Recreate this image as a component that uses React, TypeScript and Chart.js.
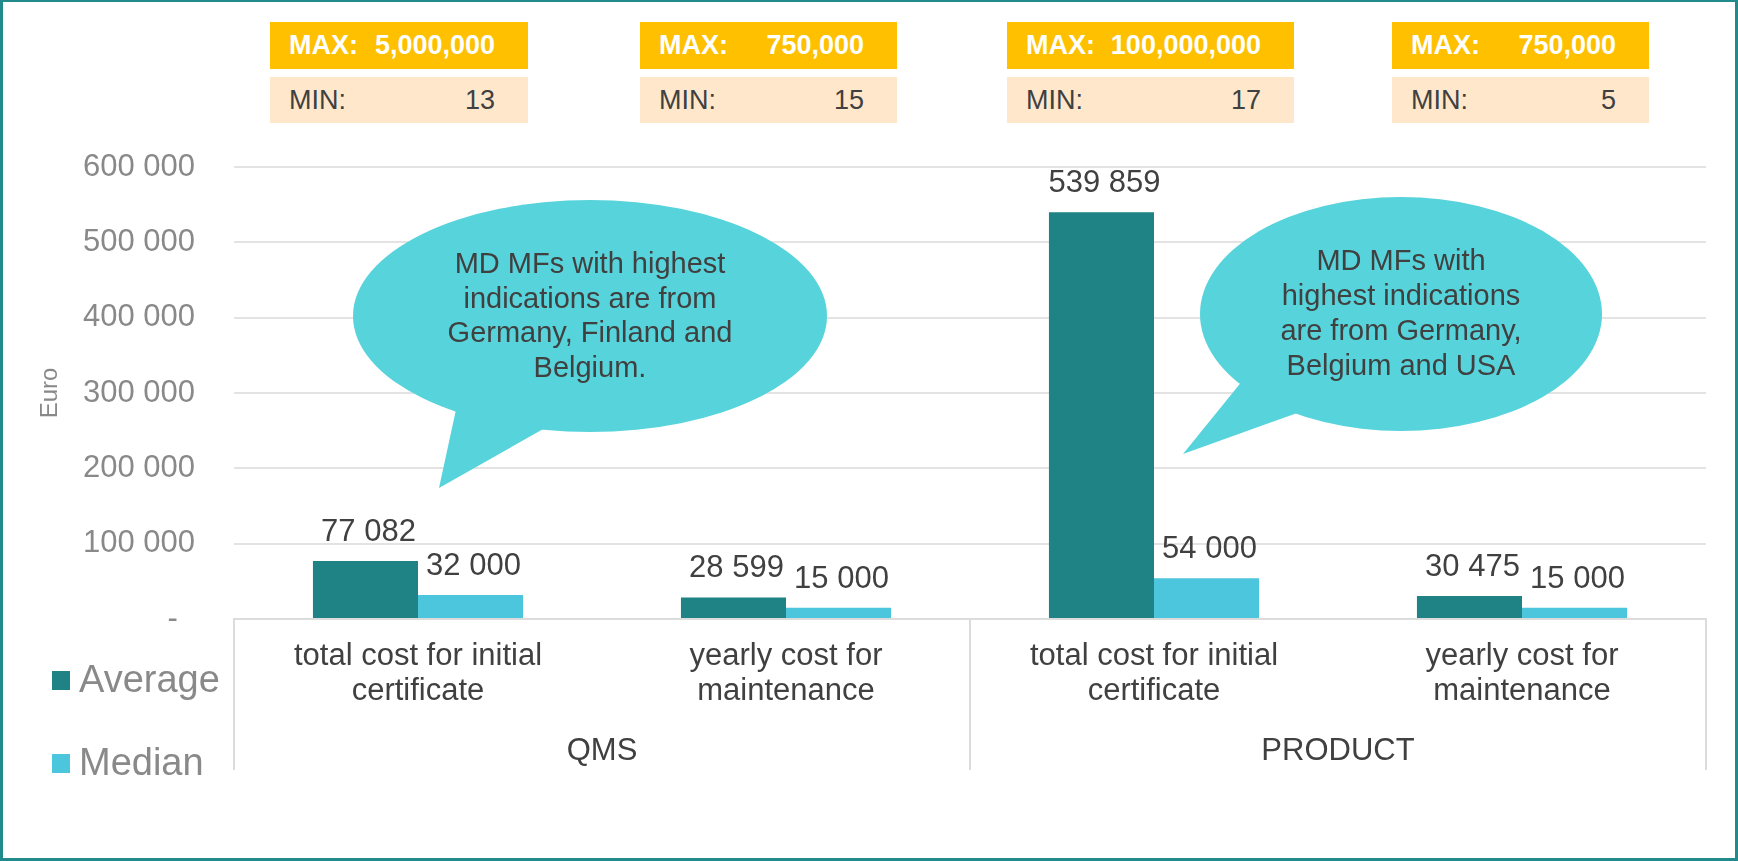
import React, { useEffect, useRef } from 'react';
import { Chart, registerables } from 'chart.js';

Chart.register(...registerables);

const FONT = '"Liberation Sans", Arial, Helvetica, sans-serif';

// ---------- data ----------
const categoryLabels: string[][] = [
  ['total cost for initial', 'certificate'],
  ['yearly cost for', 'maintenance'],
  ['total cost for initial', 'certificate'],
  ['yearly cost for', 'maintenance'],
];
const groupLabels: string[] = ['QMS', 'PRODUCT'];
const seriesNames: string[] = ['Average', 'Median'];
const averageValues: number[] = [77082, 28599, 539859, 30475];
const medianValues: number[] = [32000, 15000, 54000, 15000];
const yMin = 0;
const yMax = 600000;
const yStep = 100000;
const maxLabels: string[] = ['5,000,000', '750,000', '100,000,000', '750,000'];
const minLabels: string[] = ['13', '15', '17', '5'];
const bubbleQmsText: string[] = ['MD MFs with highest', 'indications are from', 'Germany, Finland and', 'Belgium.'];
const bubbleProductText: string[] = ['MD MFs with', 'highest indications', 'are from Germany,', 'Belgium and USA'];

// ---------- styles ----------
const AVG_COLOR = '#1F8285';
const MED_COLOR = '#4BC6DD';
const TEXT_DARK = '#404040';
const TEXT_GREY = '#898989';
const GRID = '#e3e3e3';
const BUBBLE = '#57D3DB';
const BORDER = '#218A8C';

const W = 1738;
const H = 861;

const fmt = (v: number) => {
  const s = Math.round(v).toString();
  return s.replace(/\B(?=(\d{3})+(?!\d))/g, ' ');
};

const valueLabelPlugin = {
  id: 'valueLabels',
  afterDatasetsDraw(chart: any) {
    const ctx = chart.ctx;
    ctx.save();
    ctx.font = `31px ${FONT}`;
    ctx.fillStyle = TEXT_DARK;
    ctx.textAlign = 'center';
    ctx.textBaseline = 'alphabetic';
    chart.data.datasets.forEach((ds: any, di: number) => {
      const meta = chart.getDatasetMeta(di);
      meta.data.forEach((el: any, i: number) => {
        ctx.fillText(fmt(ds.data[i]), el.x + 3, el.y - 20);
      });
    });
    ctx.restore();
  },
};

const separatorPlugin = {
  id: 'groupSeparators',
  afterDraw(chart: any) {
    const x = chart.scales.x;
    const x2 = chart.scales.x2;
    const n = chart.data.labels.length;
    const half = n / 2;
    const mid = (x.getPixelForValue(half - 1) + x.getPixelForValue(half)) / 2;
    const ctx = chart.ctx;
    ctx.save();
    ctx.strokeStyle = '#dcdcdc';
    ctx.lineWidth = 2;
    const y0 = chart.chartArea.bottom;
    const y1 = x2.top + 36;
    [x.left, mid, x.right].forEach((px: number) => {
      ctx.beginPath();
      ctx.moveTo(px, y0);
      ctx.lineTo(px, y1);
      ctx.stroke();
    });
    ctx.restore();
  },
};

const legendPlugin = {
  id: 'sideLegend',
  afterDraw(chart: any) {
    const ctx = chart.ctx;
    const base = chart.chartArea.bottom;
    const offsets = [52, 135];
    ctx.save();
    chart.data.datasets.forEach((ds: any, i: number) => {
      const top = base + offsets[i];
      ctx.fillStyle = ds.backgroundColor;
      ctx.fillRect(52, top, 18, 19);
      ctx.fillStyle = TEXT_GREY;
      ctx.font = `38px ${FONT}`;
      ctx.textAlign = 'left';
      ctx.textBaseline = 'alphabetic';
      ctx.fillText(ds.label, 79, top + 21);
    });
    ctx.restore();
  },
};

function ChartCanvas() {
  const ref = useRef<HTMLCanvasElement | null>(null);
  useEffect(() => {
    if (!ref.current) return;
    Chart.defaults.font.family = FONT;
    const chart = new Chart(ref.current, {
      type: 'bar',
      data: {
        labels: categoryLabels,
        datasets: [
          {
            label: seriesNames[0],
            data: averageValues,
            backgroundColor: AVG_COLOR,
            categoryPercentage: 0.571,
            barPercentage: 1,
            xAxisID: 'x',
          },
          {
            label: seriesNames[1],
            data: medianValues,
            backgroundColor: MED_COLOR,
            categoryPercentage: 0.571,
            barPercentage: 1,
            xAxisID: 'x',
          },
        ],
      },
      options: {
        animation: false,
        responsive: false,
        devicePixelRatio: 1,
        layout: { padding: { top: 167, right: 32, bottom: 0, left: 0 } },
        plugins: {
          legend: { display: false },
          tooltip: { enabled: false },
          title: { display: false },
        },
        scales: {
          y: {
            min: yMin,
            max: yMax,
            ticks: {
              stepSize: yStep,
              padding: 39,
              color: TEXT_GREY,
              font: { size: 31, family: FONT },
              callback: (v: any) => (Number(v) === 0 ? '-  ' : fmt(Number(v))),
            },
            grid: { color: GRID, lineWidth: 2, drawTicks: false },
            border: { display: false },
            title: {
              display: true,
              text: 'Euro',
              color: TEXT_GREY,
              font: { size: 24, family: FONT, lineHeight: 1.2 },
              padding: { top: 36, bottom: 0 },
            },
            afterFit: (s: any) => {
              s.width = 234;
            },
          },
          x: {
            type: 'category',
            position: 'bottom',
            weight: 0,
            grid: { display: false, drawTicks: false },
            border: { display: true, color: '#dcdcdc', width: 2 },
            ticks: {
              color: TEXT_DARK,
              font: { size: 31, family: FONT, lineHeight: 1.13 },
              padding: 20,
              maxRotation: 0,
              minRotation: 0,
              autoSkip: false,
            },
            afterFit: (s: any) => {
              s.height = 115;
            },
          },
          x2: {
            type: 'category',
            labels: groupLabels,
            position: 'bottom',
            weight: 1,
            offset: true,
            grid: { display: false, drawTicks: false },
            border: { display: false },
            ticks: {
              color: TEXT_DARK,
              font: { size: 31, family: FONT, lineHeight: 1.13 },
              padding: 0,
              maxRotation: 0,
              minRotation: 0,
              autoSkip: false,
            },
            afterFit: (s: any) => {
              s.height = 127;
            },
          },
        },
      } as any,
      plugins: [valueLabelPlugin, separatorPlugin, legendPlugin],
    });
    return () => chart.destroy();
  }, []);
  return (
    <canvas
      ref={ref}
      width={W}
      height={H}
      style={{ position: 'absolute', left: 0, top: 0, width: W, height: H }}
    />
  );
}

const boxLayout = [
  { left: 270, width: 258 },
  { left: 640, width: 257 },
  { left: 1007, width: 287 },
  { left: 1392, width: 257 },
];

function Bubble({
  cx, cy, rx, ry, tail, lines, baseline, step,
}: {
  cx: number; cy: number; rx: number; ry: number; tail: number[][]; lines: string[]; baseline: number; step: number;
}) {
  return (
    <g>
      <ellipse cx={cx} cy={cy} rx={rx} ry={ry} fill={BUBBLE} />
      <polygon points={tail.map((p) => p.join(',')).join(' ')} fill={BUBBLE} />
      {lines.map((t, i) => (
        <text
          key={i}
          x={cx}
          y={baseline + i * step}
          textAnchor="middle"
          fontFamily={FONT}
          fontSize={29}
          fill={TEXT_DARK}
        >
          {t}
        </text>
      ))}
    </g>
  );
}

export default function App() {
  return (
    <div
      style={{
        position: 'fixed',
        left: 0,
        top: 0,
        width: W,
        height: H,
        background: '#ffffff',
        overflow: 'hidden',
        fontFamily: FONT,
      }}
    >
      <ChartCanvas />
      <svg
        width={W}
        height={H}
        style={{ position: 'absolute', left: 0, top: 0, pointerEvents: 'none' }}
      >
        <Bubble
          cx={590}
          cy={316}
          rx={237}
          ry={116}
          tail={[[457, 405], [439, 488], [545, 428]]}
          lines={bubbleQmsText}
          baseline={273}
          step={34.7}
        />
        <Bubble
          cx={1401}
          cy={314}
          rx={201}
          ry={117}
          tail={[[1243, 380], [1183, 454], [1300, 412]]}
          lines={bubbleProductText}
          baseline={270}
          step={35}
        />
      </svg>
      {boxLayout.map((b, i) => (
        <React.Fragment key={i}>
          <div
            style={{
              position: 'absolute',
              left: b.left,
              top: 22,
              width: b.width,
              height: 47,
              background: '#FFC000',
              color: '#ffffff',
              fontWeight: 'bold',
              fontSize: 27,
              display: 'flex',
              alignItems: 'center',
              justifyContent: 'space-between',
              boxSizing: 'border-box',
              paddingLeft: 19,
              paddingRight: 33,
              whiteSpace: 'nowrap',
            }}
          >
            <span>MAX:</span>
            <span>{maxLabels[i]}</span>
          </div>
          <div
            style={{
              position: 'absolute',
              left: b.left,
              top: 77,
              width: b.width,
              height: 46,
              background: '#FFE7CC',
              color: TEXT_DARK,
              fontSize: 27,
              display: 'flex',
              alignItems: 'center',
              justifyContent: 'space-between',
              boxSizing: 'border-box',
              paddingLeft: 19,
              paddingRight: 33,
              whiteSpace: 'nowrap',
            }}
          >
            <span>MIN:</span>
            <span>{minLabels[i]}</span>
          </div>
        </React.Fragment>
      ))}
      <div
        style={{
          position: 'absolute',
          left: 0,
          top: 0,
          width: W,
          height: H,
          boxSizing: 'border-box',
          borderTop: `2px solid ${BORDER}`,
          borderLeft: `3px solid ${BORDER}`,
          borderRight: `3px solid ${BORDER}`,
          borderBottom: `3px solid ${BORDER}`,
          pointerEvents: 'none',
        }}
      />
    </div>
  );
}
